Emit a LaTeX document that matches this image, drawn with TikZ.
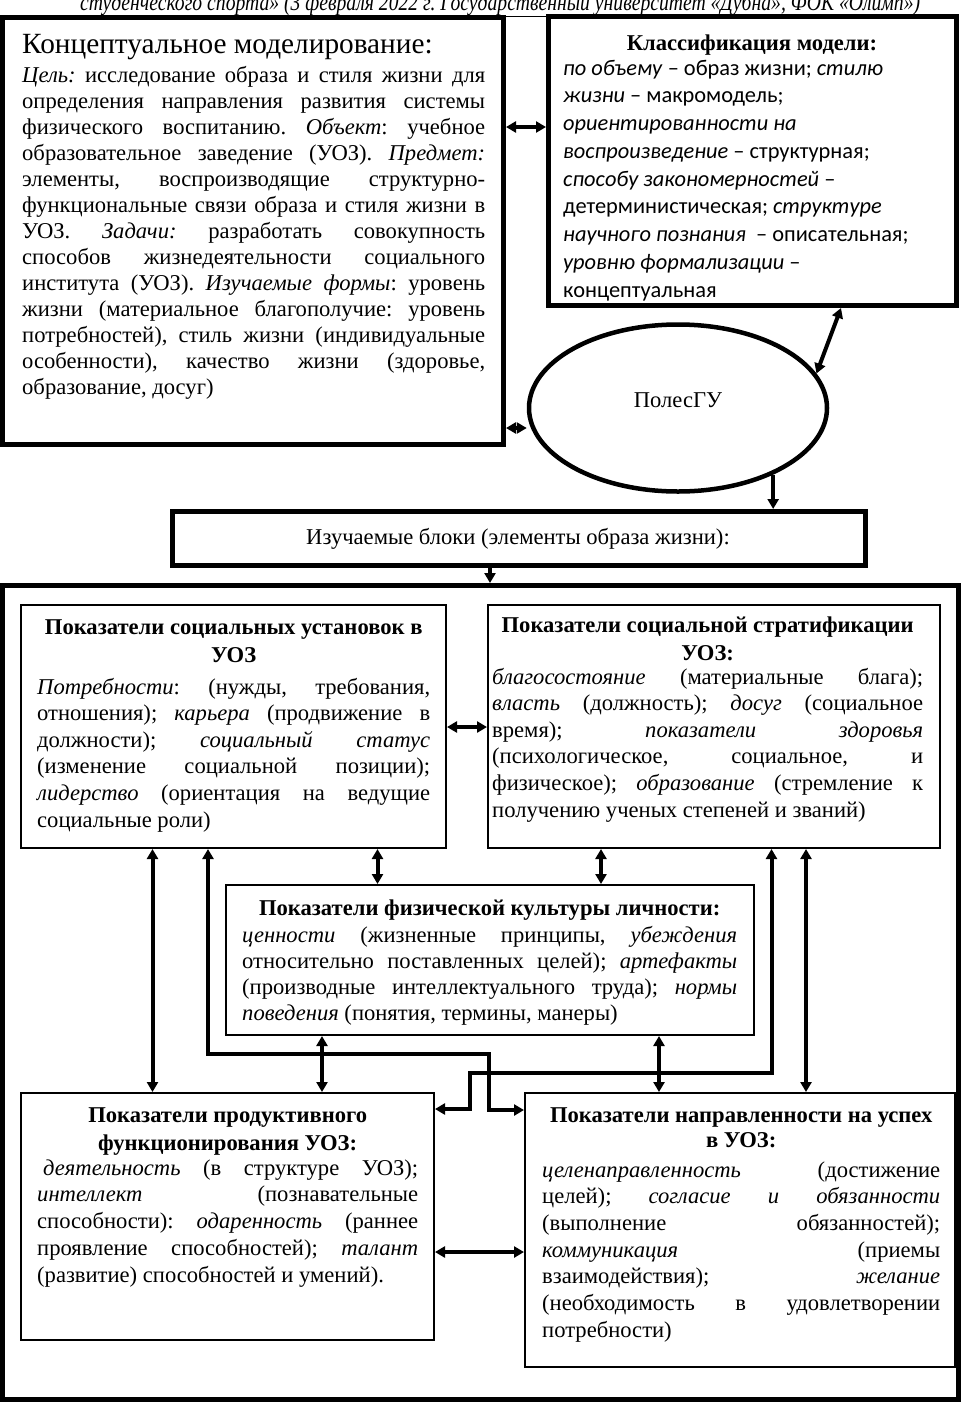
\documentclass[tikz,border=0pt]{standalone}
\usepackage{fontspec}
\setmainfont{Liberation Serif}
\newfontfamily\carl{Carlito}
\usepackage{graphicx}
\usetikzlibrary{shapes.geometric,arrows.meta}
\hbadness=10000 \hfuzz=80pt \vbadness=10000
\frenchspacing
% lines stacked in a \vtop: justified, natural, centred
\newcommand\JL[1]{\hbox to\hsize{#1}}
\newcommand\LL[1]{\hbox{#1}}
\newcommand\CL[1]{\hbox to\hsize{\hfil#1\hfil}}
\newcommand\TB[2]{\vtop{\hsize=#1\relax #2}}
\newcommand\ti[1]{\textit{#1}}
\tikzset{
  thickbox/.style={draw, line width=5pt, inner sep=0pt, rectangle},
  thinbox/.style={draw, line width=2pt, inner sep=0pt, rectangle},
  txt/.style={anchor=base west, inner sep=0pt, font=\fontsize{22.6}{26.6}\selectfont},
  ttl/.style={anchor=base west, inner sep=0pt, font=\fontsize{22.6}{28}\selectfont\bfseries},
  >={Triangle[length=10pt,width=11pt]},
  dbl/.style={line width=4pt, <->},
  sgl/.style={line width=4pt, ->},
}
\begin{document}
\begin{tikzpicture}[x=1pt,y=-1pt]
\useasboundingbox (0,0) rectangle (961,1403);
\clip (0,0) rectangle (961,1403);

% cropped header line
\node[anchor=base west, inner sep=0pt, font=\fontsize{24}{26}\selectfont\itshape] (hdr) at (80,10)
  {\resizebox{840pt}{\height}{\underline{студенческого спорта» (3 февраля 2022 г. Государственный университет «Дубна», ФОК «Олимп»)}}};

% ---------- top part ----------
\node[thickbox, minimum width=501pt, minimum height=427pt] (B1) at (253,230.5) {};
\node[anchor=base west, inner sep=0pt, font=\fontsize{29.3}{32}\selectfont] (B1h) at (22,53) {Концептуальное моделирование:};
\node[txt, font=\fontsize{22.6}{26}\selectfont] (B1t) at (22,82) {\TB{463pt}{%
\JL{\ti{Цель:} исследование образа и стиля жизни для}
\JL{определения направления развития системы}
\JL{физического воспитанию. \ti{Объект}: учебное}
\JL{образовательное заведение (УОЗ). \ti{Предмет:}}
\JL{элементы, воспроизводящие структурно-}
\JL{функциональные связи образа и стиля жизни в}
\JL{УОЗ. \ti{Задачи:} разработать совокупность}
\JL{способов жизнедеятельности социального}
\JL{института (УОЗ). \ti{Изучаемые формы}: уровень}
\JL{жизни (материальное благополучие: уровень}
\JL{потребностей), стиль жизни (индивидуальные}
\JL{особенности), качество жизни (здоровье,}
\LL{образование, досуг)}}};

\node[thickbox, minimum width=407.5pt, minimum height=289.5pt] (B2) at (752.25,160.75) {};
\node[anchor=base, inner sep=0pt, font=\fontsize{22.6}{26}\selectfont\bfseries] (B2h) at (752,50) {Классификация модели:};
\node[txt, font=\fontsize{22.4}{27.75}\selectfont\carl] (B2t) at (563,75) {\TB{385pt}{%
\LL{\ti{по объему} – образ жизни; \ti{стилю}}
\LL{\ti{жизни} – макромодель;}
\LL{\ti{ориентированности на}}
\LL{\ti{воспроизведение} – структурная;}
\LL{\ti{способу закономерностей} –}
\LL{детерминистическая; \ti{структуре}}
\LL{\ti{научного познания}\ \ – описательная;}
\LL{\ti{уровню формализации} –}
\LL{концептуальная}}};

\node[ellipse, draw, line width=4.5pt, minimum width=298pt, minimum height=167pt, inner sep=0pt] (el) at (678,408) {};
\node[anchor=base, inner sep=0pt, font=\fontsize{22.6}{26}\selectfont] (elt) at (678,407) {ПолесГУ};

\node[thickbox, minimum width=693pt, minimum height=54pt] (Iz) at (518.5,538.5) {};
\node[anchor=base, inner sep=0pt, font=\fontsize{22.6}{26}\selectfont] (Izt) at (518,544) {Изучаемые блоки (элементы образа жизни):};

\draw[dbl] (B1.east |- 0,127) -- (B2.west |- 0,127);
\draw[dbl] (B1.east |- 0,428) -- (el.west |- 0,428);
\draw[dbl] (B2.south -| 841,0) -- (el.14);
\draw[sgl] (el.-35) -- (el.-35 |- Iz.north);

% ---------- container ----------
\node[thickbox, minimum width=955.5pt, minimum height=814pt] (Ct) at (480.25,992.5) {};
\draw[sgl] (Iz.south -| 490,0) -- (Ct.north -| 490,0);

\node[thinbox, minimum width=425pt, minimum height=243pt] (A) at (233.5,726.5) {};
\node[ttl] (At) at (37,634) {\TB{393pt}{%
\CL{Показатели социальных установок в}
\CL{УОЗ}}};
\node[txt] (Ab) at (37,694) {\TB{393pt}{%
\JL{\ti{Потребности}: (нужды, требования,}
\JL{отношения); \ti{карьера} (продвижение в}
\JL{должности); \ti{социальный статус}}
\JL{(изменение социальной позиции);}
\JL{\ti{лидерство} (ориентация на ведущие}
\LL{социальные роли)}}};

\node[thinbox, minimum width=452pt, minimum height=243pt] (B) at (714,726.5) {};
\node[ttl] (Bt) at (492,632) {\TB{431pt}{%
\CL{Показатели социальной стратификации}
\CL{УОЗ:}}};
\node[txt] (Bb) at (492,684) {\TB{431pt}{%
\JL{\ti{благосостояние} (материальные блага);}
\JL{\ti{власть} (должность); \ti{досуг} (социальное}
\JL{время); \ti{показатели здоровья}}
\JL{(психологическое, социальное, и}
\JL{физическое); \ti{образование} (стремление к}
\LL{получению ученых степеней и званий)}}};

\node[thinbox, minimum width=528.5pt, minimum height=150pt] (C) at (489.75,960) {};
\node[ttl] (Ct1) at (242,915) {\TB{495pt}{%
\CL{Показатели физической культуры личности:}}};
\node[txt, font=\fontsize{22.6}{26}\selectfont] (Cb) at (242,942) {\TB{495pt}{%
\JL{\ti{ценности} (жизненные принципы, \ti{убеждения}}
\JL{относительно поставленных целей); \ti{артефакты}}
\JL{(производные интеллектуального труда); \ti{нормы}}
\LL{\ti{поведения} (понятия, термины, манеры)}}};

\node[thinbox, minimum width=413pt, minimum height=247pt] (D) at (227.5,1216.5) {};
\node[ttl] (Dt) at (37,1122) {\TB{381pt}{%
\CL{Показатели продуктивного}
\CL{функционирования УОЗ:}}};
\node[txt, font=\fontsize{22.6}{26.75}\selectfont] (Db) at (37,1175) {\TB{381pt}{%
\JL{\kern6pt\ti{деятельность} (в структуре УОЗ);}
\JL{\ti{интеллект} (познавательные}
\JL{способности): \ti{одаренность} (раннее}
\JL{проявление способностей); \ti{талант}}
\LL{(развитие) способностей и умений).}}};

\node[thinbox, minimum width=430pt, minimum height=274pt] (E) at (740,1230) {};
\node[ttl, font=\fontsize{22.6}{25}\selectfont\bfseries] (Et) at (542,1122) {\TB{398pt}{%
\CL{Показатели направленности на успех}
\CL{в УОЗ:}}};
\node[txt, font=\fontsize{22.6}{26.67}\selectfont] (Eb) at (542,1177) {\TB{398pt}{%
\JL{\ti{целенаправленность} (достижение}
\JL{целей); \ti{согласие и обязанности}}
\JL{(выполнение обязанностей);}
\JL{\ti{коммуникация} (приемы}
\JL{взаимодействия); \ti{желание}}
\JL{(необходимость в удовлетворении}
\LL{потребности)}}};

% ---------- connectors inside container ----------
\draw[dbl] (A.east |- 0,727) -- (B.west |- 0,727);
\draw[dbl] (D.east |- 0,1252) -- (E.west |- 0,1252);
\draw[dbl] (A.south -| 152.5,0) -- (D.north -| 152.5,0);
\draw[dbl] (A.south -| 377.5,0) -- (C.north -| 377.5,0);
\draw[dbl] (B.south -| 601,0) -- (C.north -| 601,0);
\draw[dbl] (B.south -| 806,0) -- (E.north -| 806,0);
\draw[dbl] (C.south -| 322,0) -- (D.north -| 322,0);
\draw[dbl] (C.south -| 659,0) -- (E.north -| 659,0);
\coordinate (w1a) at (208,1054);
\coordinate (w1b) at (489,1054);
\draw[dbl] (A.south -| w1a) -- (w1a) -- (w1b) -- (w1b |- 0,1110) -- (E.west |- 0,1110);
\coordinate (w2a) at (771.5,1073);
\coordinate (w2b) at (470,1073);
\draw[dbl] (B.south -| w2a) -- (w2a) -- (w2b) -- (w2b |- 0,1109) -- (D.east |- 0,1109);
\end{tikzpicture}
\end{document}
